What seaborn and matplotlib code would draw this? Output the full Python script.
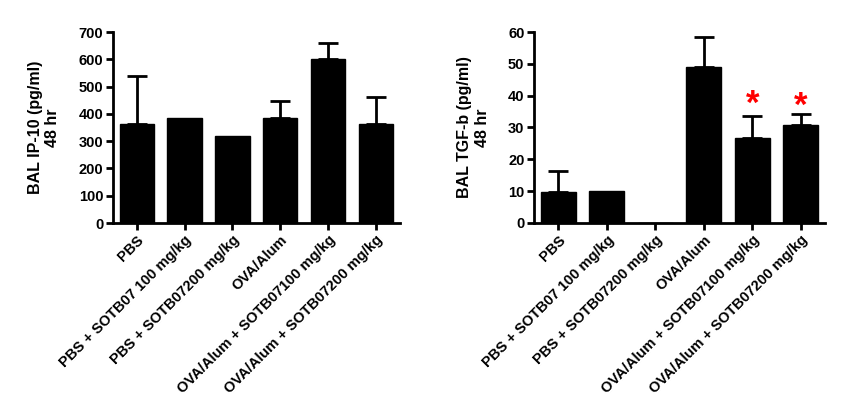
import matplotlib
matplotlib.use("Agg")
import matplotlib.pyplot as plt
import seaborn as sns
import numpy as np

categories = ["PBS", "PBS + SOTB07 100 mg/kg", "PBS + SOTB07200 mg/kg", "OVA/Alum",
              "OVA/Alum + SOTB07100 mg/kg", "OVA/Alum + SOTB07200 mg/kg"]
ip10_mean = [365, 385, 320, 385, 600, 365]
ip10_err = [175, 0, 0, 63, 60, 97]
tgf_mean = [9.7, 10.0, 0.0, 49.0, 26.7, 30.7]
tgf_err = [6.6, 0, 0, 9.4, 6.8, 3.5]
tgf_star_index = [4, 5]
tgf_star_y = [37.2, 36.5]

sns.set_style("ticks")
plt.rcParams['font.family'] = ['Liberation Sans', 'DejaVu Sans']
plt.rcParams['font.weight'] = 'bold'
for k in ['text.color', 'axes.labelcolor', 'xtick.color', 'ytick.color', 'axes.edgecolor']:
    plt.rcParams[k] = 'black'

fig = plt.figure(figsize=(8.56, 4.18), dpi=100)
ax1 = fig.add_axes([0.132, 0.4665, 0.335, 0.4565])
ax2 = fig.add_axes([0.624, 0.467, 0.340, 0.456])

def panel(ax, means, errs, ylim, step, ylabel):
    sns.barplot(x=categories, y=means, color="black", width=0.72, ax=ax,
                saturation=1, edgecolor="black")
    x = np.arange(len(categories))
    e = np.array(errs, dtype=float)
    m = np.array(means, dtype=float)
    mask = e > 0
    ax.errorbar(x[mask], m[mask], yerr=[np.zeros(mask.sum()), e[mask]], fmt='none',
                ecolor='black', elinewidth=2, capsize=7, capthick=2, zorder=1)
    ax.set_ylim(0, ylim)
    ax.set_xlim(-0.5, len(categories) - 0.5)
    ax.set_yticks(np.arange(0, ylim + 1, step))
    ax.set_ylabel(ylabel, fontsize=11.5, fontweight='bold', labelpad=13)
    ax.set_xticks(x)
    ax.set_xticklabels(categories, rotation=45, ha='right', rotation_mode='anchor',
                       fontsize=10.5, fontweight='bold')
    for lab in ax.get_yticklabels():
        lab.set_fontweight('bold')
        lab.set_fontsize(10.5)
    for s in ['top', 'right']:
        ax.spines[s].set_visible(False)
    for s in ['left', 'bottom']:
        ax.spines[s].set_linewidth(2)
    ax.tick_params(width=2, length=5, pad=2)

panel(ax1, ip10_mean, ip10_err, 700, 100, "BAL IP-10 (pg/ml)\n48 hr")
panel(ax2, tgf_mean, tgf_err, 60, 10, "BAL TGF-b (pg/ml)\n48 hr")

for i, y in zip(tgf_star_index, tgf_star_y):
    ax2.text(i, y, "*", color="red", fontsize=25, fontweight='bold',
             ha='center', va='center')

fig.savefig("out.png", dpi=100)
